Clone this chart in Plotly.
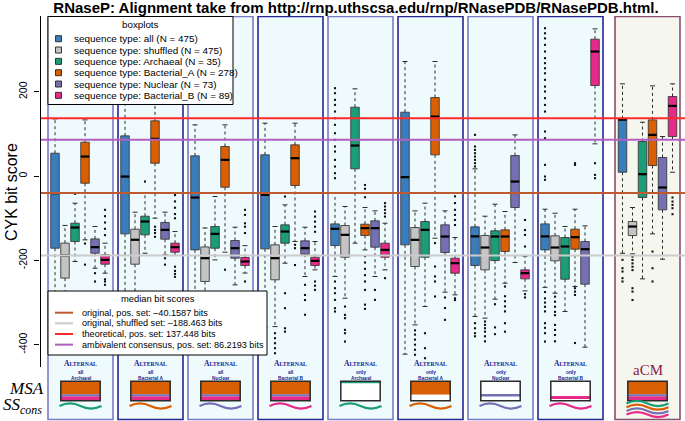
import plotly.graph_objects as go

# ---------------- data ----------------
categories = ["all", "shuffled", "Archaeal", "Bacterial_A", "Nuclear", "Bacterial_B"]
counts = [475, 475, 35, 278, 73, 89]
panel_scope = ["all", "all", "all", "all", "only", "only", "only", "only", "aCM"]
panel_family = ["Archaeal", "Bacterial A", "Nuclear", "Bacterial B",
                "Archaeal", "Bacterial A", "Nuclear", "Bacterial B", ""]

# rows: categories, columns: 9 panels
lower = [
    [-380, -350, -380, -360, -238, -422.5, -333, -264, -183],
    [-320, -330, -340, -357, -289.7, -353, -337, -277.8, -184.4],
    [-202.6, -182.9, -198.7, -206.6, -159.1, -309.4, -292, -321.3, -243.8],
    [-151.2, -99.8, -180.5, -155.2, -175, -147.3, -254.1, -262, -137],
    [-218.5, -186.8, -258, -238.2, -238.2, -275.4, -205, -405.9, -197.1],
    [-230.3, -188.4, -230, -222.4, -222.4, -281.7, -272.3, 76.6, 9.3],
]
q1 = [
    [-171, -137, -175, -172.6, -164.7, -163, -212, -175, 9.3],
    [-242, -209, -250, -246, -192.4, -214.5, -222.4, -201, -141],
    [-155.2, -139.3, -171, -159.1, 17.3, -192.4, -200.3, -244.6, -50.8],
    [-16.8, 30.7, -26.3, -22.3, -140.9, 50.5, -178.9, -173.4, 25.2],
    [-182.9, -149.6, -194.7, -185.2, -168.6, -181.3, -74.5, -256.4, -80],
    [-209, -180.5, -212.1, -212.1, -192.4, -230.3, -243.8, 215, 94],
]
median = [
    [-40.5, -1, -50.8, -44.4, -125, -2.5, -143, -143, 134],
    [-188.4, -151, -194.7, -194.7, -139.3, -151.2, -169.4, -169.4, -119.6],
    [-122, -107.7, -137, -131.5, 72.6, -127.5, -143.3, -167, 4.6],
    [46.5, 88.4, 38.6, 42.6, -123.5, 141.4, -143.3, -144.9, 97.9],
    [-168.6, -127.5, -171, -171, -123.5, -143.3, -12.8, -173.4, -27],
    [-198.7, -168.6, -202.6, -201, -175, -206.6, -230.3, 295.7, 166.7],
]
q3 = [
    [54.4, 95.6, 48.1, 50.5, -113.3, 151.7, -120.4, -113.3, 135.9],
    [-159, -126, -168, -163, -117.2, -122, -140.9, -141.7, -107.7],
    [-111.7, -95.1, -119.6, -115.6, 163.6, -107.7, -129.9, -145.7, 82.1],
    [80.5, 131.2, 70.3, 74.2, -114.1, 186.5, -127.5, -125.9, 133.5],
    [-148.9, -110.1, -152.8, -153.6, -106.1, -115.6, 48.9, -155.2, 44.2],
    [-186.8, -159.1, -193.1, -192.4, -159.1, -194.7, -222.4, 325, 188.9],
]
upper = [
    [135.9, 200, 121.7, 125.6, -40, 272, 17.3, -78.5, 219],
    [-117, -85.6, -123, -119.6, -72.1, -82.4, -95.1, -88, -74.5],
    [-64.2, -40.5, -48.4, -68.2, 207.1, -64.2, -66.6, -119.6, 128],
    [133.5, 230, 121.7, 125.6, -74.5, 272, -84, -78.5, 214.2],
    [-119.6, -85.6, -121.2, -121.2, -82.4, -82.4, 97.9, -118, 94],
    [-159.1, -131.5, -165, -155.2, -111.7, -145.7, -190.8, 349.5, 219],
]
outliers = [
    [[], [], [], [],
     [208.7, 196.8, 181, 169.1, 153.3, 137.5, 121.7, 101.9, 86.1, 70.3, 58.4, 38.6, 22.8, 7, -4.9,
      -250.1, -265.9, -277.8, -293.6, -313.4, -321.3],
     [],
     [98, 70.3, 62.4, 54.4, 46.5, 38.6, 30.7, 22.8, -349, -361, -372.7, -380],
     [351, 339, 327, 311.5, 295.7, 280, 268, 256, 244, 228.5, 212.6, 200.8, 185, 169, 153.3,
      105.9, 90, 26.7, -0.9, -8.8, -275, -290, -300, -310, -321, -349, -360, -372.7, -392.5],
     [-198.7, -218.5, -226.4, -242.2, -250.1]],
    [[], [], [], [-372.7, -384.6, -396.5, -408.3, -420.2],
     [-309.5, -329.3, -337.1, -364.8, -372.7, -392.5],
     [-366, -376, -388, -400, -412, -424],
     [-345, -353, -361, -369, -380, -392],
     [-286, -298, -310, -322, -330, -353, -365, -377, -392],
     [-191, -199, -207, -215, -223, -266, -274, -294]],
    [[-42], [-12.8], [], [-48.4, -277.8, -313.4, -361, -369], [],
     [-372.7, -408.3, -432], [-304, -359, -375], [], []],
    [[-160, -210], [-120, -128, -135, -144], [-222], [-163, -171, -211],
     [-21, -30, -40, -50, -190, -205, -220, -235, -250, -270, -305, -315],
     [-159, -214.5, -238, -250, -285.6],
     [-262, -285, -297, -309, -321, -349, -369],
     [30.7, 26.7, -266, -274, -282, -396],
     [-179, -218.5, -250]],
    [[-230.3, -250.1], [-195, -210], [], [-258, -282, -294, -329], [-270, -293.6],
     [-288, -313, -341], [], [], []],
    [[-80, -95, -110, -125, -140, -245, -250, -258],
     [-45, -60, -75, -90, -100, -215, -225, -232, -239],
     [-80, -92, -112, -120, -135, -250, -275],
     [-84, -96, -108, -120, -132, -250, -260, -270],
     [-64, -72, -80, -88, -96, -242],
     [-48, -64, -80, -92, -104, -116, -290, -294],
     [-104, -128, -139.5, -167, -280, -288],
     [30.7, 3, -5],
     [-50.8, -60.3, -68.2, -76.1, -90.3]],
]
ref_labels = ["original, pos. set: \u201340.1587 bits",
              "original, shuffled set: \u2013188.463 bits",
              "theoretical, pos. set: 137.448 bits",
              "ambivalent consensus, pos. set: 86.2193 bits"]
ref_values = [-40.1587, -188.463, 137.448, 86.2193]
yticks = [-400, -200, 0, 200]

# ---------------- style ----------------
colors = ["#3a7dbd", "#c4c4c4", "#1b9e77", "#d95f02", "#7570b3", "#e7298a"]
ref_colors = ["#c0592e", "#cccccc", "#ff2a2a", "#b060c0"]
SANS = "Liberation Sans, Arial, sans-serif"
SERIF = "Liberation Serif, DejaVu Serif, serif"


def X(px):
    return (px - 40) / 10.0


def PX(px):
    return (px - 40) / 645.0


def Y(py):
    return 380 - (py - 16) / 0.4214


def box_x(p, i):
    return 1.5 + 7 * p + i if p < 8 else 58.25 + i


def panel_center(p):
    return 4.05 + 7 * p if p < 8 else 60.75


fig = go.Figure()
shapes = []
ann = []

# panels
for p in range(9):
    if p < 8:
        x0, x1 = 0.8 + 7 * p, 7.3 + 7 * p
        bcol = "#7a7ac8" if p % 2 == 0 else "#262695"
        fill = "#effafc"
    else:
        x0, x1 = 57.5, 64.0
        bcol = "#8c4d6c"
        fill = "#f5f7ef"
    shapes.append(dict(type="rect", xref="x", yref="y", x0=x0, x1=x1, y0=Y(419.5), y1=Y(16.5),
                       fillcolor=fill, line=dict(color=bcol, width=1.6), layer="below"))

# whiskers, boxes, medians, outliers
w = 0.85
for i, cat in enumerate(categories):
    xs = [box_x(p, i) for p in range(9)]
    wx, wy, cx, cy = [], [], [], []
    for p in range(9):
        x = xs[p]
        wx += [x, x, None, x, x, None]
        wy += [q3[i][p], upper[i][p], None, q1[i][p], lower[i][p], None]
        cx += [x - 0.25, x + 0.25, None, x - 0.25, x + 0.25, None]
        cy += [upper[i][p], upper[i][p], None, lower[i][p], lower[i][p], None]
    fig.add_trace(go.Scatter(x=wx, y=wy, mode="lines", line=dict(color="#2a2a2a", width=1, dash="dot"),
                             hoverinfo="skip", showlegend=False))
    fig.add_trace(go.Scatter(x=cx, y=cy, mode="lines", line=dict(color="#2a2a2a", width=1),
                             hoverinfo="skip", showlegend=False))

for i, cat in enumerate(categories):
    xs = [box_x(p, i) for p in range(9)]
    fig.add_trace(go.Box(x=xs, q1=q1[i], median=median[i], q3=q3[i],
                         lowerfence=q1[i], upperfence=q3[i], width=w, whiskerwidth=0,
                         fillcolor=colors[i], line=dict(color="#3a3a3a", width=0.9),
                         boxpoints=False, name=cat, showlegend=False, hoverinfo="skip"))

for i, cat in enumerate(categories):
    mx, my, ox, oy = [], [], [], []
    for p in range(9):
        x = box_x(p, i)
        mx += [x - w / 2, x + w / 2, None]
        my += [median[i][p], median[i][p], None]
        for v in outliers[i][p]:
            ox.append(x)
            oy.append(v)
    fig.add_trace(go.Scatter(x=mx, y=my, mode="lines", line=dict(color="black", width=2.2),
                             hoverinfo="skip", showlegend=False))
    fig.add_trace(go.Scatter(x=ox, y=oy, mode="markers",
                             marker=dict(color="#111111", size=2.1, symbol="square"),
                             hoverinfo="skip", showlegend=False))

# reference lines (drawn over boxes)
for v, c in zip(ref_values, ref_colors):
    shapes.append(dict(type="line", xref="x", yref="y", x0=X(41), x1=64.5, y0=v, y1=v,
                       line=dict(color=c, width=2)))

# y axis line
shapes.append(dict(type="line", xref="x", yref="y", x0=X(40.5), x1=X(40.5), y0=Y(367), y1=Y(16),
                   line=dict(color="black", width=1)))

# ---- boxplots legend ----
shapes.append(dict(type="rect", xref="x", yref="y", x0=X(48), x1=X(233), y0=Y(104.5), y1=Y(16.5),
                   fillcolor="white", line=dict(color="black", width=1)))
ann.append(dict(x=X(140.5), y=Y(24), text="boxplots", showarrow=False,
                font=dict(family=SANS, size=9.8, color="black"), xanchor="center", yanchor="middle"))
for i, cat in enumerate(categories):
    yy = 38.7 + 11.33 * i
    shapes.append(dict(type="rect", xref="x", yref="y", x0=X(55.5), x1=X(61.5), y0=Y(yy + 3), y1=Y(yy - 3),
                       fillcolor=colors[i], line=dict(color="#333333", width=1)))
    ann.append(dict(x=X(71.5), y=Y(yy), text=f"sequence type: {cat} (N = {counts[i]})", showarrow=False,
                    font=dict(family=SANS, size=9.9, color="black"), xanchor="left", yanchor="middle"))

# ---- median legend ----
shapes.append(dict(type="rect", xref="x", yref="y", x0=X(48), x1=X(267), y0=Y(355), y1=Y(291),
                   fillcolor="white", line=dict(color="black", width=1)))
ann.append(dict(x=X(157.5), y=Y(298.5), text="median bit scores", showarrow=False,
                font=dict(family=SANS, size=9.4, color="black"), xanchor="center", yanchor="middle"))
for k, (lab, c) in enumerate(zip(ref_labels, ref_colors)):
    yy = 312.7 + 10.65 * k
    shapes.append(dict(type="line", xref="x", yref="y", x0=X(55), x1=X(73), y0=Y(yy), y1=Y(yy),
                       line=dict(color=c, width=2)))
    ann.append(dict(x=X(79.5), y=Y(yy), text=lab, showarrow=False,
                    font=dict(family=SANS, size=9.1, color="black"), xanchor="left", yanchor="middle"))

# ---- bottom diagrams ----
orange, purple, pink, green = colors[3], colors[4], colors[5], colors[2]
for p in range(9):
    c = panel_center(p)
    rx0, rx1 = c - 1.97, c + 1.97
    top, bot = Y(381.3), Y(400.7)
    if p < 8:
        ann.append(dict(x=c, y=Y(363.5),
                        text="<b>A<span style='font-size:5.8px'>LTERNAL</span></b>", showarrow=False,
                        font=dict(family=SERIF, size=7.6, color="#1c1c8c"), xanchor="center", yanchor="middle"))
        ann.append(dict(x=c, y=Y(372.5), text="<b>" + panel_scope[p] + "</b>", showarrow=False,
                        font=dict(family=SANS, size=4.8, color="#1c1c8c"), xanchor="center", yanchor="middle"))
        ann.append(dict(x=c, y=Y(378), text="<b>" + panel_family[p] + "</b>", showarrow=False,
                        font=dict(family=SANS, size=4.8, color="#1c1c8c"), xanchor="center", yanchor="middle"))
    else:
        ann.append(dict(x=c, y=Y(370), text="aCM", showarrow=False,
                        font=dict(family=SERIF, size=15, color="#8b1c44"), xanchor="center", yanchor="middle"))
    fam = p % 4
    if p < 4 or p == 8:
        shapes.append(dict(type="rect", xref="x", yref="y", x0=rx0, x1=rx1, y0=Y(394.3), y1=top,
                           fillcolor=orange, line=dict(width=0)))
        shapes.append(dict(type="rect", xref="x", yref="y", x0=rx0, x1=rx1, y0=Y(396.5), y1=Y(394.3),
                           fillcolor=purple, line=dict(width=0)))
        shapes.append(dict(type="rect", xref="x", yref="y", x0=rx0, x1=rx1, y0=bot, y1=Y(396.5),
                           fillcolor=pink, line=dict(width=0)))
    else:
        shapes.append(dict(type="rect", xref="x", yref="y", x0=rx0, x1=rx1, y0=bot, y1=top,
                           fillcolor="white", line=dict(width=0)))
        if fam == 0:
            shapes.append(dict(type="rect", xref="x", yref="y", x0=rx0, x1=rx1, y0=Y(383.3), y1=top,
                               fillcolor=green, line=dict(width=0)))
        elif fam == 1:
            shapes.append(dict(type="rect", xref="x", yref="y", x0=rx0, x1=rx1, y0=Y(394.5), y1=top,
                               fillcolor=orange, line=dict(width=0)))
        elif fam == 2:
            shapes.append(dict(type="rect", xref="x", yref="y", x0=rx0, x1=rx1, y0=Y(396.5), y1=Y(394),
                               fillcolor=purple, line=dict(width=0)))
        else:
            shapes.append(dict(type="rect", xref="x", yref="y", x0=rx0, x1=rx1, y0=Y(399), y1=Y(396),
                               fillcolor=pink, line=dict(width=0)))
    shapes.append(dict(type="rect", xref="x", yref="y", x0=rx0, x1=rx1, y0=bot, y1=top,
                       fillcolor="rgba(0,0,0,0)", line=dict(color="#2a2a2a", width=1.5)))
    # secondary-structure waves
    if p < 8:
        waves = [([green, orange, purple, pink][fam], 406.0)]
    else:
        waves = [(green, 403.5), (orange, 407.2), (purple, 410.9), (pink, 414.6)]
    for wc, wy in waves:
        x0, x1 = c - 2.1, c + 2.1
        yc = Y(wy)
        a = 6.0
        path = (f"M {x0},{yc} Q {x0 + 1.05},{yc + 2 * a} {c},{yc} "
                f"Q {c + 1.05},{yc - 2 * a} {x1},{yc}")
        shapes.append(dict(type="path", xref="x", yref="y", path=path,
                           line=dict(color=wc, width=2.2)))

ann.append(dict(xref="paper", x=PX(26), y=Y(388.5), text="<i>MSA</i>", showarrow=False,
                font=dict(family=SERIF, size=17, color="black"), xanchor="center", yanchor="middle"))
ann.append(dict(xref="paper", x=PX(22.5), y=Y(405.5), text="<i>SS<sub>cons</sub></i>", showarrow=False,
                font=dict(family=SERIF, size=17, color="black"), xanchor="center", yanchor="middle"))
ann.append(dict(xref="paper", x=PX(11), y=Y(192), text="CYK bit score", showarrow=False, textangle=-90,
                font=dict(family=SANS, size=16, color="black"), xanchor="center", yanchor="middle"))

fig.update_layout(
    width=685, height=421, autosize=False,
    margin=dict(l=40, r=0, t=16, b=0, autoexpand=False),
    paper_bgcolor="white", plot_bgcolor="white",
    boxmode="overlay", showlegend=False,
    title=dict(text="<b>RNaseP: Alignment take from http://rnp.uthscsa.edu/rnp/RNasePDB/RNasePDB.html.</b>",
               x=356 / 685, xanchor="center", y=1 - 8 / 421, yanchor="middle", yref="container",
               font=dict(family=SANS, size=15, color="black"), automargin=False),
    xaxis=dict(range=[0, 64.5], visible=False, fixedrange=True, automargin=False),
    yaxis=dict(range=[Y(421), Y(16)], tickvals=yticks, ticktext=[str(t) for t in yticks],
               ticks="outside", ticklen=5, tickcolor="black", tickangle=-90, ticklabelstandoff=3,
               tickfont=dict(family=SANS, size=10.5, color="black"), automargin=False,
               showgrid=False, zeroline=False, showline=False, fixedrange=True),
    shapes=shapes, annotations=ann,
)

fig.write_html("out.html", config={"displayModeBar": False},
               post_script="document.body.style.margin='0px';document.body.style.padding='0px';")
